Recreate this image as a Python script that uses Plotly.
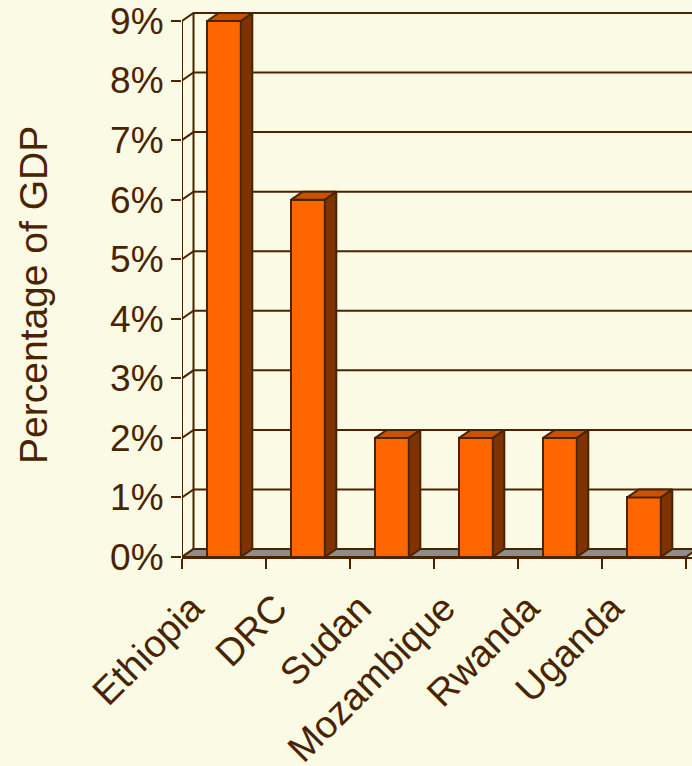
import plotly.graph_objects as go

# Data
countries = ["Ethiopia", "DRC", "Sudan", "Mozambique", "Rwanda", "Uganda"]
gdp_share = [9, 6, 2, 2, 2, 1]          # percent of GDP
y_ticks = list(range(0, 10))
y_tick_labels = [f"{v}%" for v in y_ticks]

# Colours
BG = "#FBFAE4"
INK = "#4A2400"
FRONT = "#FF6600"
SIDE = "#7F3300"
TOP = "#C95100"
FLOOR = "#8C8C8C"

# Figure geometry (pixels)
W, H = 692, 766
M_L, M_R, M_T, M_B = 182, 0, 10, 209
CAT_PX = 84.0          # width of one category slot
UNIT_PX = 59.56        # pixels per percentage point
DEPTH_DX, DEPTH_DY = 11.5, 8.0   # oblique depth offset of the 3-D effect
LW = 2.0

n = len(countries)
plot_w = W - M_L - M_R
plot_h = H - M_T - M_B
x_min = -0.5
x_max = x_min + plot_w / CAT_PX
y_max = plot_h / UNIT_PX
ddx = DEPTH_DX / CAT_PX
ddy = DEPTH_DY / UNIT_PX
half_w = 0.2

fig = go.Figure()

# Front faces of the columns
fig.add_trace(go.Bar(
    x=list(range(n)), y=gdp_share, width=2 * half_w,
    marker=dict(color=FRONT, line=dict(color=INK, width=LW)),
    hoverinfo="skip", showlegend=False,
))

# Side and top faces of each column
for i, v in enumerate(gdp_share):
    xl, xr = i - half_w, i + half_w
    fig.add_trace(go.Scatter(
        x=[xr, xr + ddx, xr + ddx, xr, xr],
        y=[0, ddy, v + ddy, v, 0],
        mode="lines", fill="toself", fillcolor=SIDE,
        line=dict(color=INK, width=LW),
        hoverinfo="skip", showlegend=False,
    ))
    fig.add_trace(go.Scatter(
        x=[xl, xl + ddx, xr + ddx, xr, xl],
        y=[v, v + ddy, v + ddy, v, v],
        mode="lines", fill="toself", fillcolor=TOP,
        line=dict(color=INK, width=LW),
        hoverinfo="skip", showlegend=False,
    ))

# Invisible trace carrying the boundary tick axis
fig.add_trace(go.Scatter(x=[x_min], y=[0], xaxis="x2", mode="markers",
                         marker=dict(opacity=0), hoverinfo="skip",
                         showlegend=False))

shapes = []
# Gridlines on the side wall and back wall
for v in y_ticks:
    shapes.append(dict(
        type="path", xref="x", yref="y", layer="below",
        path=f"M {x_min},{v} L {x_min + ddx},{v + ddy} L {x_max + 1},{v + ddy}",
        line=dict(color=INK, width=LW),
    ))
# Front vertical axis and back wall edge
shapes.append(dict(type="line", xref="x", yref="y", layer="below",
                   x0=x_min, x1=x_min, y0=0, y1=y_ticks[-1],
                   line=dict(color=INK, width=LW)))
shapes.append(dict(type="line", xref="x", yref="y", layer="below",
                   x0=x_min + ddx, x1=x_min + ddx, y0=ddy, y1=y_ticks[-1] + ddy,
                   line=dict(color=INK, width=LW)))
# Floor
x_end = n - 0.5
shapes.append(dict(
    type="path", xref="x", yref="y", layer="below",
    path=(f"M {x_min},0 L {x_end},0 L {x_end + ddx},{ddy} "
          f"L {x_min + ddx},{ddy} Z"),
    fillcolor=FLOOR, line=dict(color=INK, width=LW),
))

font_family = "Arial, Liberation Sans, sans-serif"

fig.update_layout(
    width=W, height=H,
    margin=dict(l=M_L, r=M_R, t=M_T, b=M_B, pad=0, autoexpand=False),
    paper_bgcolor=BG, plot_bgcolor=BG,
    font=dict(family=font_family, color=INK, size=37),
    shapes=shapes,
    showlegend=False,
    bargap=0,
    xaxis=dict(
        range=[x_min, x_max], tickmode="array",
        tickvals=list(range(n)), ticktext=countries,
        tickangle=-45, ticks="", showgrid=False, zeroline=False,
        showline=False, tickfont=dict(size=38, color=INK),
        ticklabelstandoff=20, ticklabelshift=-32,
        automargin=False, fixedrange=True,
    ),
    xaxis2=dict(
        range=[x_min, x_max], overlaying="x", anchor="y", side="bottom",
        tickmode="array", tickvals=[i - 0.5 for i in range(n + 1)],
        ticks="outside", ticklen=10, tickwidth=LW, tickcolor=INK,
        showticklabels=False, showgrid=False, zeroline=False,
        showline=True, linecolor=INK, linewidth=LW,
        automargin=False, fixedrange=True,
    ),
    yaxis=dict(
        range=[0, y_max], tickmode="array",
        tickvals=y_ticks, ticktext=y_tick_labels,
        ticks="outside", ticklen=10, tickwidth=LW, tickcolor=INK,
        ticklabelstandoff=0,
        showgrid=False, zeroline=False, showline=False,
        tickfont=dict(size=37, color=INK),
        automargin=False, fixedrange=True,
    ),
    annotations=[dict(
        text="Percentage of GDP", textangle=-90,
        xref="paper", yref="paper",
        x=(33 - M_L) / plot_w, y=(H - M_B - 295) / plot_h,
        xanchor="center", yanchor="middle", showarrow=False,
        font=dict(size=39, color=INK, family=font_family),
    )],
)

fig.write_html("out.html")
